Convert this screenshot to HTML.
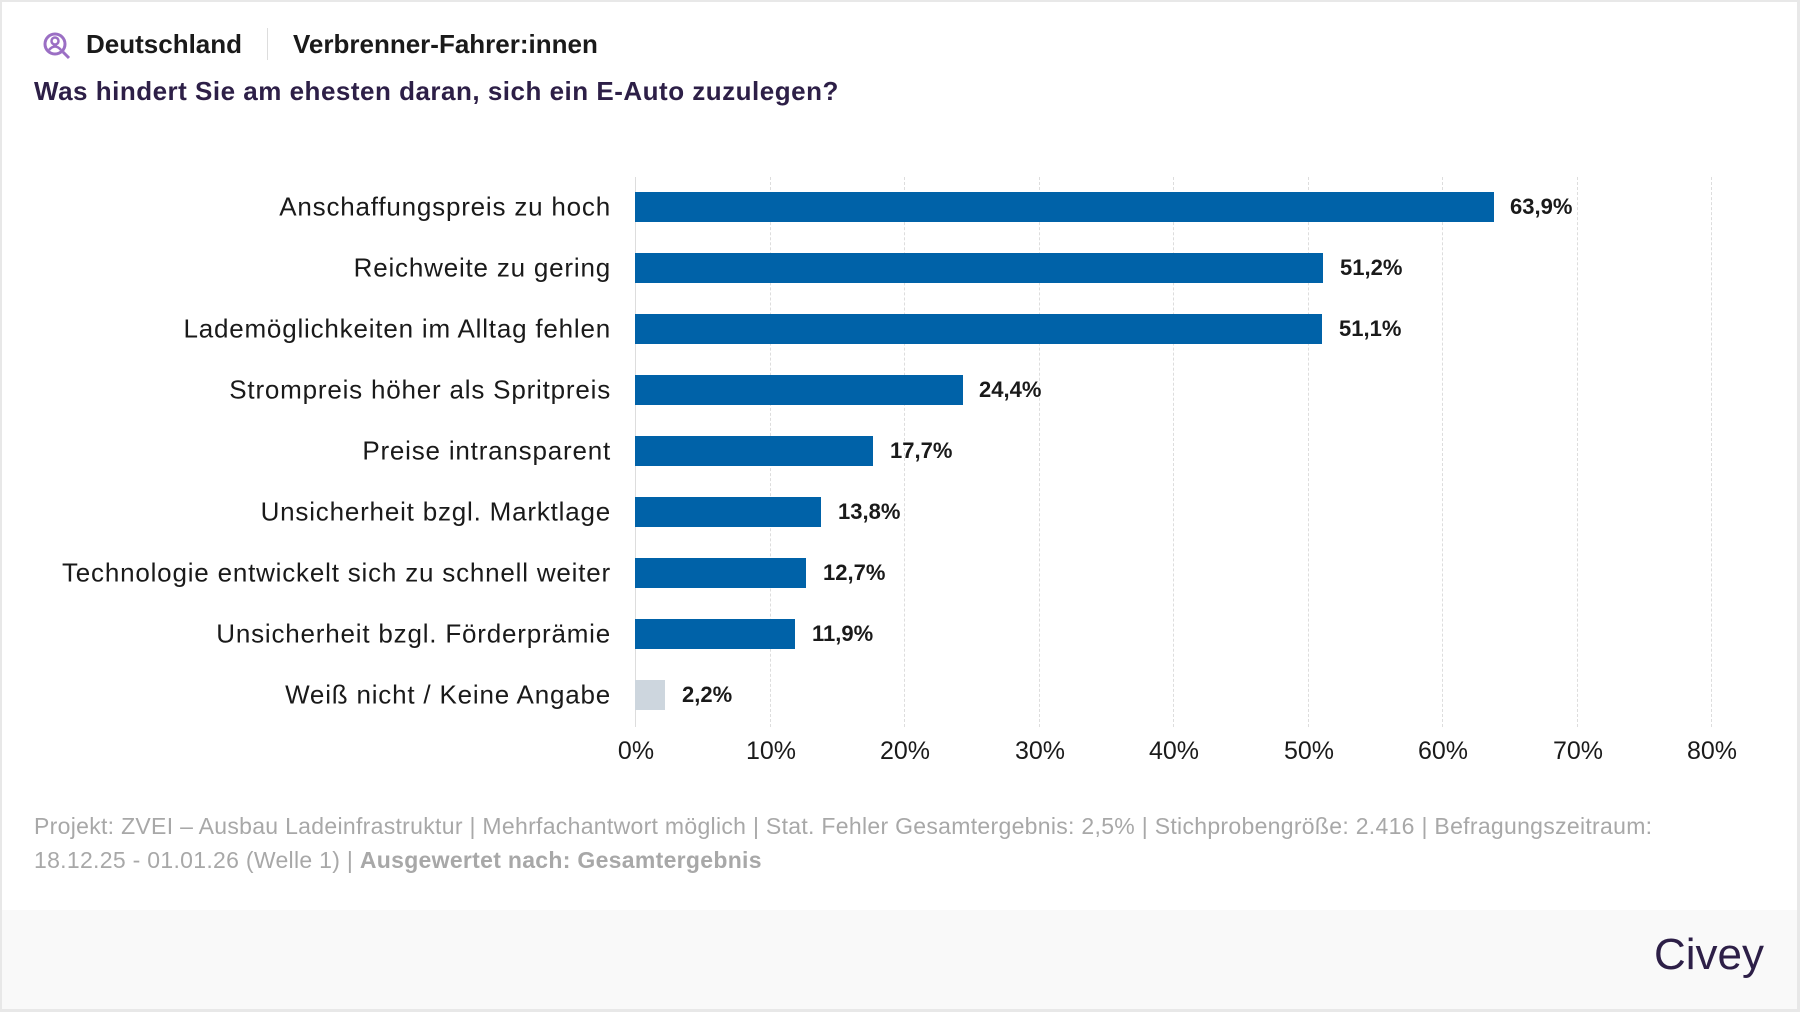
<!DOCTYPE html>
<html><head><meta charset="utf-8"><style>
body{margin:0;width:1800px;height:1012px;background:#e8e8e8;font-family:"Liberation Sans",sans-serif;overflow:hidden}
.card{position:absolute;left:2px;top:2px;width:1795px;height:1007px;background:#fff}
.foot{position:absolute;left:0;top:908px;width:1795px;height:99px;background:#f9f9f9}
.t{position:absolute;white-space:nowrap}
.lab{position:absolute;right:1186px;font-size:26px;letter-spacing:0.8px;color:#1a1a1a;transform:translateY(-50%)}
.val{position:absolute;font-size:22px;font-weight:bold;color:#1a1a1a;transform:translateY(-50%)}
.bar{position:absolute;left:633px;height:30px;background:#0062a8}
.grid{position:absolute;top:175px;height:550px;border-left:1px dashed #ddd}
.tick{position:absolute;top:735px;font-size:25px;color:#1a1a1a;transform:translateX(-50%)}
</style></head><body>
<div class="card">
<svg class="t" style="left:40px;top:29px" width="30" height="30" viewBox="0 0 30 30"><circle cx="13" cy="13" r="10" fill="none" stroke="#9b6fc4" stroke-width="3"/><circle cx="13" cy="10" r="3.5" fill="none" stroke="#9b6fc4" stroke-width="2.5"/><path d="M7 19 Q13 12 19 19" fill="none" stroke="#9b6fc4" stroke-width="2.5"/><line x1="21" y1="21" x2="27" y2="27" stroke="#9b6fc4" stroke-width="3"/></svg>
<div class="t" style="left:84px;top:27px;font-size:26px;font-weight:bold;color:#1a1a1a">Deutschland</div>
<div class="t" style="left:265px;top:26px;width:1px;height:32px;background:#ddd"></div>
<div class="t" style="left:291px;top:27px;font-size:26px;font-weight:bold;color:#1a1a1a">Verbrenner-Fahrer:innen</div>
<div class="t" style="left:32px;top:74px;font-size:26px;font-weight:bold;letter-spacing:0.5px;color:#2d1f47">Was hindert Sie am ehesten daran, sich ein E-Auto zuzulegen?</div>

<div class="grid" style="left:633px;border-left:1px solid #ddd"></div>
<div class="grid" style="left:768px"></div><div class="grid" style="left:902px"></div><div class="grid" style="left:1037px"></div><div class="grid" style="left:1171px"></div><div class="grid" style="left:1306px"></div><div class="grid" style="left:1440px"></div><div class="grid" style="left:1575px"></div><div class="grid" style="left:1709px"></div>

<div class="lab" style="top:205px">Anschaffungspreis zu hoch</div><div class="bar" style="top:190px;width:859px"></div><div class="val" style="top:205px;left:1508px">63,9%</div>
<div class="lab" style="top:266px">Reichweite zu gering</div><div class="bar" style="top:251px;width:688px"></div><div class="val" style="top:266px;left:1338px">51,2%</div>
<div class="lab" style="top:327px">Lademöglichkeiten im Alltag fehlen</div><div class="bar" style="top:312px;width:687px"></div><div class="val" style="top:327px;left:1337px">51,1%</div>
<div class="lab" style="top:388px">Strompreis höher als Spritpreis</div><div class="bar" style="top:373px;width:328px"></div><div class="val" style="top:388px;left:977px">24,4%</div>
<div class="lab" style="top:449px">Preise intransparent</div><div class="bar" style="top:434px;width:238px"></div><div class="val" style="top:449px;left:888px">17,7%</div>
<div class="lab" style="top:510px">Unsicherheit bzgl. Marktlage</div><div class="bar" style="top:495px;width:186px"></div><div class="val" style="top:510px;left:836px">13,8%</div>
<div class="lab" style="top:571px">Technologie entwickelt sich zu schnell weiter</div><div class="bar" style="top:556px;width:171px"></div><div class="val" style="top:571px;left:821px">12,7%</div>
<div class="lab" style="top:632px">Unsicherheit bzgl. Förderprämie</div><div class="bar" style="top:617px;width:160px"></div><div class="val" style="top:632px;left:810px">11,9%</div>
<div class="lab" style="top:693px">Weiß nicht / Keine Angabe</div><div class="bar" style="top:678px;width:30px;background:#cdd6de"></div><div class="val" style="top:693px;left:680px">2,2%</div>

<div class="tick" style="left:634px">0%</div><div class="tick" style="left:769px">10%</div><div class="tick" style="left:903px">20%</div><div class="tick" style="left:1038px">30%</div><div class="tick" style="left:1172px">40%</div><div class="tick" style="left:1307px">50%</div><div class="tick" style="left:1441px">60%</div><div class="tick" style="left:1576px">70%</div><div class="tick" style="left:1710px">80%</div>

<div class="t" style="left:32px;top:807px;font-size:23px;letter-spacing:0.3px;color:#a8a8a8;line-height:34px">Projekt: ZVEI – Ausbau Ladeinfrastruktur | Mehrfachantwort möglich | Stat. Fehler Gesamtergebnis: 2,5% | Stichprobengröße: 2.416 | Befragungszeitraum:<br>18.12.25 - 01.01.26 (Welle 1) | <b>Ausgewertet nach: Gesamtergebnis</b></div>
<div class="foot"></div>
<div class="t" style="left:1652px;top:928px;font-size:44px;color:#2d1f47">Civey</div>
</div>
</body></html>
